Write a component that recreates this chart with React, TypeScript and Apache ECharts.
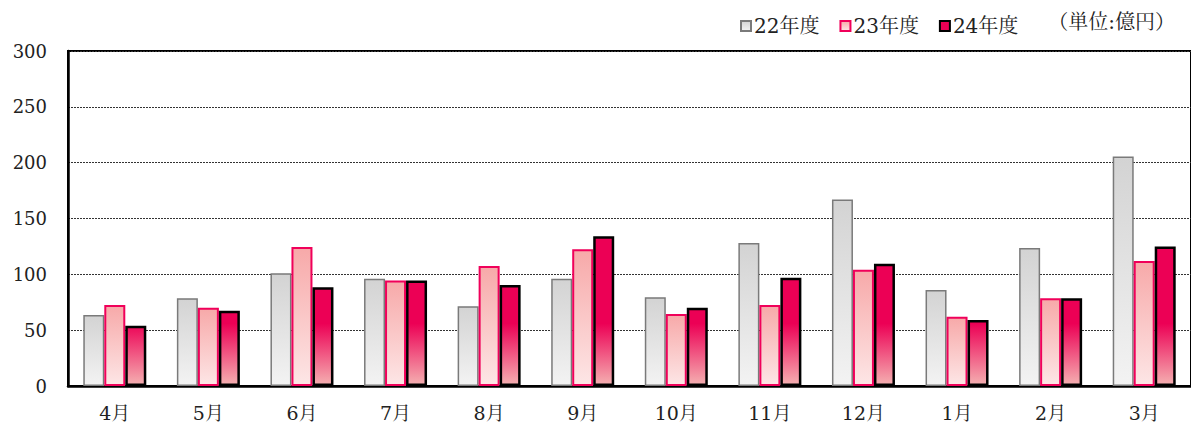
import React, { useEffect, useRef } from "react";
import * as echarts from "echarts";

const categories = ["4月", "5月", "6月", "7月", "8月", "9月", "10月", "11月", "12月", "1月", "2月", "3月"];
const fy22 = [63.5, 78.5, 101, 96, 71.5, 96, 79.5, 128, 167, 86, 123.5, 205.5];
const fy23 = [72.5, 70, 124.5, 94.5, 107.5, 122.5, 64.5, 72.5, 104, 62, 78.5, 112];
const fy24 = [54, 67.5, 88.5, 94.5, 90.5, 134, 70, 97, 109.5, 59, 78.5, 125];
const seriesNames = ["22年度", "23年度", "24年度"];
const unitLabel = "（単位:億円）";
const yMax = 300;
const yInterval = 50;

const FONT = "DejaVu Serif, Noto Serif CJK JP, Noto Sans CJK JP, serif";

export default function App() {
  const ref = useRef<HTMLDivElement>(null);
  useEffect(() => {
    if (!ref.current) return;
    const chart = echarts.init(ref.current, undefined, { renderer: "svg" });
    const gridTop = 51;
    const gridHeight = 335;
    const gridBottomPx = gridTop + gridHeight;
    const yOf = (v: number) => gridBottomPx - (v / yMax) * gridHeight;

    const grad22 = new echarts.graphic.LinearGradient(0, 0, 0, 1, [
      { offset: 0, color: "#d3d3d3" },
      { offset: 1, color: "#f3f3f3" },
    ]);
    const grad23 = new echarts.graphic.LinearGradient(0, 0, 0, 1, [
      { offset: 0, color: "#f7a9a9" },
      { offset: 1, color: "#fde6e6" },
    ]);
    const grad24 = new echarts.graphic.LinearGradient(
      0, yOf(56), 0, gridBottomPx,
      [
        { offset: 0, color: "#ec0055" },
        { offset: 1, color: "#f5b3b3" },
      ],
      true
    );

    chart.setOption({
      animation: false,
      backgroundColor: "#ffffff",
      textStyle: { fontFamily: FONT },
      grid: {
        left: 68,
        top: gridTop,
        width: 1134,
        height: gridHeight,
        show: true,
        borderColor: "#000",
        borderWidth: 2,
        backgroundColor: "transparent",
      },
      legend: {
        left: 735,
        top: 11,
        itemWidth: 10,
        itemHeight: 10,
        itemGap: 20,
        icon: "rect",
        textStyle: { fontFamily: FONT, fontSize: 20, color: "#222", padding: [0, 0, 0, -2] },
        data: seriesNames,
      },
      graphic: [
        {
          type: "text",
          right: 16,
          top: 12,
          style: { text: unitLabel, font: `20px ${FONT}`, fill: "#222" },
        },
      ],
      xAxis: {
        type: "category",
        data: categories,
        axisLine: { lineStyle: { color: "#000", width: 2.5 } },
        axisTick: { inside: true, length: 6, lineStyle: { color: "#000", width: 1.5 } },
        axisLabel: { fontFamily: FONT, fontSize: 19, color: "#222", margin: 17 },
      },
      yAxis: {
        type: "value",
        min: 0,
        max: yMax,
        interval: yInterval,
        axisLine: { show: true, lineStyle: { color: "#000", width: 2.5 } },
        axisTick: { show: false },
        axisLabel: { fontFamily: FONT, fontSize: 18, color: "#222", margin: 21 },
        splitLine: { lineStyle: { color: "#333", type: [2, 1], width: 1 } },
      },
      series: [
        {
          name: seriesNames[0],
          type: "bar",
          data: fy22,
          barWidth: 21,
          barGap: "0%",
          itemStyle: { color: grad22, borderColor: "#7a7a7a", borderWidth: 1.5 },
        },
        {
          name: seriesNames[1],
          type: "bar",
          data: fy23,
          barWidth: 21,
          barGap: "0%",
          itemStyle: { color: grad23, borderColor: "#f0005a", borderWidth: 2 },
        },
        {
          name: seriesNames[2],
          type: "bar",
          data: fy24,
          barWidth: 21,
          barGap: "0%",
          itemStyle: { color: grad24, borderColor: "#000", borderWidth: 2.5 },
        },
      ],
    });
    return () => chart.dispose();
  }, []);
  return <div ref={ref} style={{ position: "fixed", left: 0, top: 0, width: 1191, height: 428 }} />;
}
